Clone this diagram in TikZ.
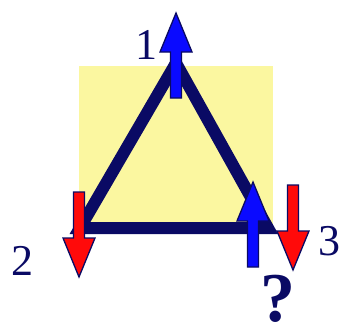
\documentclass[tikz,border=0pt]{standalone}
\usepackage{fontspec}
\setmainfont{Liberation Serif}
\usepackage{tikz}
\usetikzlibrary{positioning}
\definecolor{navy}{HTML}{0A0A64}
\definecolor{paleyellow}{HTML}{FBF7A0}
\definecolor{spinblue}{HTML}{0A0AFF}
\definecolor{spinred}{HTML}{FF0A0A}

\tikzset{
  spin/.pic={
    \filldraw[pic actions] (-5.5,85) -- (-5.5,39) -- (-16,39) -- (0,0)
      -- (16,39) -- (5.5,39) -- (5.5,85) -- cycle;
  },
  lbl/.style={text=navy, font=\fontsize{44}{44}\selectfont, inner sep=0pt},
}

\begin{document}
\begin{tikzpicture}[x=1pt, y=-1pt]
  \useasboundingbox (0,0) rectangle (342,329);
  % square behind the triangle
  \fill[paleyellow] (79,66) rectangle (273,228);
  \coordinate (A) at (176,63);
  \coordinate (B) at (80,228);
  \coordinate (C) at (268,228);
  \draw[navy, line width=12pt, line join=miter] (A)--(B)--(C)--cycle;
  % spins
  \pic[fill=spinblue, draw=navy, line width=1.3pt] at (176,13) {spin};
  \pic[fill=spinred, draw=navy, line width=1.3pt, rotate=180] at (79,277) {spin};
  \pic[fill=spinblue, draw=navy, line width=1.3pt] at (253,182) {spin};
  \pic[fill=spinred, draw=navy, line width=1.3pt, rotate=180] at (293,270) {spin};
  \node[lbl] (one) at (146,45) {1};
  \node[lbl] (two) at (22,261) {2};
  \node[lbl] (three) at (329,241) {3};
  \node[lbl, font=\fontsize{70}{70}\selectfont\bfseries] (qm) at (278,299) {?};
\end{tikzpicture}
\end{document}
